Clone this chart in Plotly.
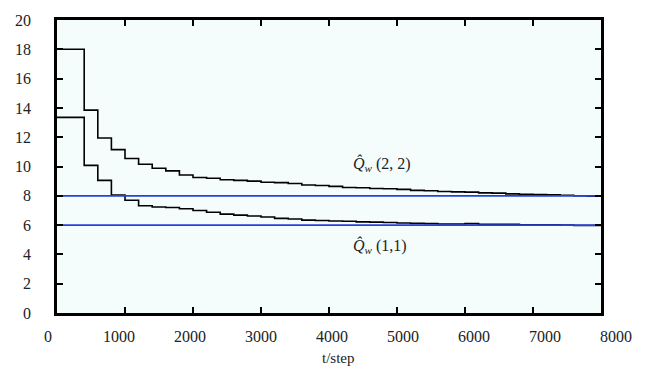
import plotly.graph_objects as go

# ---------------- data ----------------
t_step = [0, 200, 400, 600, 800, 1000, 1200, 1400, 1600, 1800,
          2000, 2200, 2400, 2600, 2800, 3000, 3200, 3400, 3600, 3800,
          4000, 4200, 4400, 4600, 4800, 5000, 5200, 5400, 5600, 5800,
          6000, 6200, 6400, 6600, 6800, 7000, 7200, 7400, 7600, 7800, 8000]

q22 = [18.0, 18.0, 13.85, 11.95, 11.15, 10.55, 10.15, 9.88, 9.7, 9.42,
       9.25, 9.2, 9.1, 9.05, 9.0, 8.92, 8.9, 8.84, 8.74, 8.7,
       8.64, 8.57, 8.55, 8.5, 8.48, 8.44, 8.37, 8.34, 8.29, 8.27,
       8.25, 8.2, 8.18, 8.13, 8.1, 8.08, 8.06, 8.04, 8.0, 7.98, 7.98]

q11 = [13.35, 13.35, 10.08, 9.05, 8.05, 7.7, 7.32, 7.24, 7.2, 7.12,
       7.0, 6.88, 6.75, 6.68, 6.62, 6.55, 6.46, 6.42, 6.34, 6.31,
       6.28, 6.26, 6.22, 6.2, 6.18, 6.14, 6.12, 6.1, 6.08, 6.07,
       6.1, 6.05, 6.05, 6.05, 6.02, 6.02, 6.02, 6.0, 5.97, 5.97, 5.97]

ref_levels = [8.0, 6.0]
ref_span = [0, 8000]

x_ticks = [0, 1000, 2000, 3000, 4000, 5000, 6000, 7000, 8000]
y_ticks = [0, 2, 4, 6, 8, 10, 12, 14, 16, 18, 20]

label_22 = "<i>Q\u0302</i><sub><i>w</i></sub> (2, 2)"
label_11 = "<i>Q\u0302</i><sub><i>w</i></sub> (1,1)"
x_title = "t/step"

FONT = "Liberation Serif, Times New Roman, serif"
TXT = "#222222"

fig = go.Figure()

for ys in (q22, q11):
    fig.add_trace(go.Scatter(x=t_step, y=ys, mode="lines", line_shape="hv",
                             line=dict(color="black", width=1.6),
                             showlegend=False, hoverinfo="skip"))

for lv in ref_levels:
    fig.add_trace(go.Scatter(x=ref_span, y=[lv, lv], mode="lines",
                             line=dict(color="#2244dd", width=1.8),
                             showlegend=False, hoverinfo="skip"))

# invisible carrier so the (slightly wider) label axis is drawn
fig.add_trace(go.Scatter(x=x_ticks, y=[None] * len(x_ticks), xaxis="x2",
                         mode="markers", showlegend=False, hoverinfo="skip"))

fig.update_layout(
    width=649, height=369,
    margin=dict(l=48, r=33, t=12, b=56),
    paper_bgcolor="white",
    plot_bgcolor="rgba(0,0,0,0)",
    font=dict(family=FONT, size=16, color=TXT),
    showlegend=False,
    xaxis=dict(domain=[9 / 568, 553 / 568], range=[0, 8000], tickvals=x_ticks,
               showticklabels=False,
               ticks="inside", ticklen=6, tickwidth=1.5, tickcolor="black",
               showline=True, linewidth=2.5, linecolor="black", mirror="ticks",
               showgrid=False, zeroline=False),
    xaxis2=dict(domain=[0, 1], anchor="y", side="bottom",
                range=[0, 8000], tickvals=x_ticks,
                ticktext=[str(v) for v in x_ticks],
                ticks="", showline=False, showgrid=False, zeroline=False,
                ticklabelstandoff=12,
                tickfont=dict(family=FONT, size=16, color=TXT)),
    yaxis=dict(range=[0, 20], tickvals=y_ticks, anchor="x",
               ticks="inside", ticklen=6, tickwidth=1.5, tickcolor="black",
               showline=True, linewidth=2.5, linecolor="black", mirror="ticks",
               showgrid=False, zeroline=False, ticklabelstandoff=20,
               tickfont=dict(family=FONT, size=16, color=TXT)),
)

fig.add_shape(type="rect", xref="x domain", yref="y domain", x0=0, x1=1, y0=0, y1=1,
              fillcolor="#f5fcfc", line=dict(width=0), layer="below")

fig.add_annotation(x=4330, y=10.15, xref="x", yref="y", text=label_22,
                   showarrow=False, xanchor="left", yanchor="middle",
                   font=dict(family=FONT, size=16, color=TXT))
fig.add_annotation(x=4330, y=4.55, xref="x", yref="y", text=label_11,
                   showarrow=False, xanchor="left", yanchor="middle",
                   font=dict(family=FONT, size=16, color=TXT))
fig.add_annotation(x=(338 - 48) / 568, y=-0.153, xref="paper", yref="paper", text=x_title,
                   showarrow=False, xanchor="center", yanchor="middle",
                   font=dict(family=FONT, size=15, color=TXT))

fig.write_html("out.html")
